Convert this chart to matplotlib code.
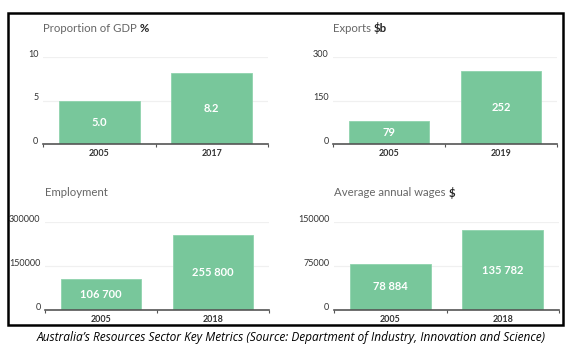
import matplotlib
matplotlib.use("Agg")
import matplotlib.pyplot as plt
from matplotlib.patches import Rectangle

W, H = 572, 351

titles_plain = ["Proportion of GDP ", "Exports ", "Employment", "Average annual wages "]
titles_bold = ["%", "$b", "", "$"]
categories = [["2005", "2017"], ["2005", "2019"], ["2005", "2018"], ["2005", "2018"]]
values = [[5.0, 8.2], [79, 252], [106700, 255800], [78884, 135782]]
value_labels = [["5.0", "8.2"], ["79", "252"], ["106 700", "255 800"], ["78 884", "135 782"]]
yticks = [[0, 5, 10], [0, 150, 300], [0, 150000, 300000], [0, 75000, 150000]]
caption = "Australia\u2019s Resources Sector Key Metrics (Source: Department of Industry, Innovation and Science)"

# axes boxes in pixels: left, right, top, bottom
boxes = [(43, 268, 57, 144), (333, 557, 57, 144), (45, 269, 222, 310), (334, 559, 222, 310)]
title_y = [28, 28, 193, 193]

BAR = "#78c79b"
FONT = "Lato"

fig = plt.figure(figsize=(W / 100, H / 100), dpi=100)
fig.patch.set_facecolor("white")

def fx(x):
    return x / W

def fy(y):
    return 1 - y / H

for i in range(4):
    l, r, t, b = boxes[i]
    ax = fig.add_axes([fx(l), fy(b), fx(r) - fx(l), fy(t) - fy(b)])
    ymax = yticks[i][-1]
    x = [0, 1]
    ax.bar(x, values[i], width=0.72, color=BAR, edgecolor="#8fd3ad", linewidth=0.6, zorder=3)
    ax.set_xlim(-0.5, 1.5)
    ax.set_ylim(0, ymax)
    for s in ["top", "right", "left"]:
        ax.spines[s].set_visible(False)
    ax.spines["bottom"].set_color("#555555")
    ax.spines["bottom"].set_linewidth(1.2)
    ax.spines["bottom"].set_zorder(4)
    for yt in yticks[i][1:]:
        ax.axhline(yt, color="#f0f0f0", linewidth=0.9, zorder=1)
    ax.set_yticks([])
    ax.set_xticks([-0.5, 0.5, 1.5])
    ax.set_xticklabels([])
    ax.tick_params(axis="x", length=2, width=0.8, color="#555555", direction="out")
    for j in range(2):
        ax.text(x[j], -0.06 * ymax, categories[i][j], ha="center", va="top",
                fontsize=6.4, fontweight="bold", color="#333333", family=FONT,
                clip_on=False)
        ax.text(x[j], values[i][j] / 2, value_labels[i][j], ha="center", va="center",
                fontsize=8, fontweight="bold", color="white", family=FONT, zorder=5)
    for yt in yticks[i]:
        ax.text(-0.54, yt + 0.03 * ymax, f"{yt:g}" if yt < 1e5 else str(yt),
                ha="right", va="center", fontsize=6.5, color="#333333", family=FONT,
                clip_on=False)
    # title
    tt = fig.text(fx(l), fy(title_y[i]), titles_plain[i], ha="left", va="center",
                  fontsize=8.2, color="#666666", family=FONT)
    if titles_bold[i]:
        fig.canvas.draw()
        bb = tt.get_window_extent()
        fig.text(bb.x1 / W, fy(title_y[i]), titles_bold[i], ha="left", va="center",
                 fontsize=8.2, color="#222222", fontweight="bold", family=FONT)

# border (drawn on top, white outside on left to clip overflowing labels)
fig.add_artist(Rectangle((0, 0), fx(7), 1, transform=fig.transFigure,
                         facecolor="white", edgecolor="none", zorder=9))
fig.add_artist(Rectangle((fx(8), fy(325)), fx(563) - fx(8), fy(13) - fy(325),
                         transform=fig.transFigure, fill=False, edgecolor="black",
                         linewidth=1.8, zorder=10))

fig.text(fx(291), fy(337), caption, ha="center", va="center", fontsize=8.6,
         style="italic", color="black", family="Open Sans")

fig.savefig("out.png", dpi=100, facecolor="white")
